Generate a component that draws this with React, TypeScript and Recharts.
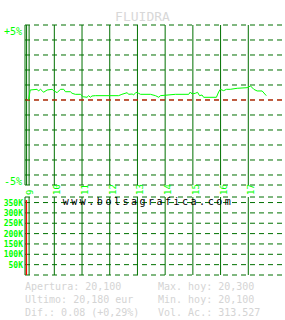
import React from "react";
import { ComposedChart, Line, Bar, XAxis, YAxis, CartesianGrid, ReferenceLine } from "recharts";

const hourTicks = [9, 10, 11, 12, 13, 14, 15, 16, 17];
const pctTicks = [-5, -4, -3, -2, -1, 0, 1, 2, 3, 4, 5];
const volTicks = [50000, 100000, 150000, 200000, 250000, 300000, 350000];

const priceTimes = [
  9.07, 9.13, 9.38, 9.43, 9.5, 9.56, 9.61, 9.74, 9.92, 9.98, 10.1, 10.22, 10.34, 10.4, 10.58,
  10.64, 10.76, 10.94, 11.04, 11.18, 11.24, 11.3, 11.36, 11.48, 12.32, 12.44, 12.63, 12.68, 12.81,
  12.86, 12.95, 13.04, 13.11, 13.47, 13.65, 13.77, 13.83, 14.37, 14.85, 14.91, 14.97, 15.09, 15.17,
  15.24, 15.33, 15.39, 15.85, 15.93, 15.99, 16.11, 16.21, 16.35, 16.6, 16.96, 17.08, 17.2, 17.32,
  17.5, 17.65,
];
const prices = [
  20.1, 20.234, 20.243, 20.221, 20.243, 20.225, 20.203, 20.234, 20.243, 20.225, 20.198, 20.243,
  20.243, 20.211, 20.211, 20.19, 20.176, 20.176, 20.144, 20.136, 20.158, 20.136, 20.154, 20.158,
  20.158, 20.176, 20.198, 20.176, 20.18, 20.167, 20.203, 20.19, 20.176, 20.176, 20.158, 20.136,
  20.158, 20.176, 20.176, 20.207, 20.18, 20.19, 20.203, 20.158, 20.167, 20.136, 20.136, 20.207,
  20.243, 20.225, 20.243, 20.243, 20.257, 20.265, 20.288, 20.243, 20.221, 20.221, 20.158,
];
const refPrice = 20.1;

const volTimes = [9];
const volumes = [362000];

const infoLeft = ["Apertura: 20,100", "Ultimo: 20,180 eur", "Dif.: 0.08 (+0,29%)"];
const infoRight = ["Max. hoy: 20,300", "Min. hoy: 20,100", "Vol. Ac.: 313.527"];

const xDomain: [number, number] = [8.942, 18.325];
const openMark = 9.09;
const GRID = "#007000";
const BRIGHT = "#00ff00";
const MONO = "'DejaVu Sans Mono', monospace";

const priceData = priceTimes.map((t, i) => ({ t, pct: (prices[i] / refPrice - 1) * 100 }));
const volData = volTimes.map((t, i) => ({ t, vol: volumes[i] }));

const HourTick = (props: any) => {
  const { x, y, payload } = props;
  return (
    <text
      transform={`translate(${x + 6},${y + 2}) rotate(-90)`}
      fill={BRIGHT}
      fontSize={9}
      fontFamily={MONO}
      textAnchor="start"
    >
      {payload.value}
    </text>
  );
};

const PctTick = (props: any) => {
  const { x, y, payload } = props;
  if (payload.value !== 5 && payload.value !== -5) return <g />;
  return (
    <text x={x + 5} y={y + 10} fill={BRIGHT} fontSize={10} fontFamily={MONO} textAnchor="end">
      {payload.value > 0 ? "+5%" : "-5%"}
    </text>
  );
};

const VolTick = (props: any) => {
  const { x, y, payload } = props;
  return (
    <text
      x={x + 6}
      y={y + 3}
      fill={BRIGHT}
      fontSize={8}
      fontWeight="bold"
      fontFamily={MONO}
      textAnchor="end"
    >
      {payload.value / 1000}K
    </text>
  );
};

export default function App() {
  return (
    <div style={{ position: "absolute", left: 0, top: 0, width: 285, height: 320, background: "#fff" }}>
      <div style={{ position: "absolute", left: 0, top: 0 }}>
        <ComposedChart width={285} height={200} data={priceData} margin={{ top: 25, right: 0, bottom: 0, left: 0 }}>
          <CartesianGrid vertical={false} stroke={GRID} strokeDasharray="5 4" />
          <XAxis
            type="number"
            dataKey="t"
            domain={xDomain}
            ticks={hourTicks}
            interval={0}
            allowDataOverflow
            height={15}
            axisLine={false}
            tickLine={false}
            tick={<HourTick />}
          />
          <YAxis
            type="number"
            domain={[-5.667, 5]}
            ticks={pctTicks}
            interval={0}
            allowDataOverflow
            width={25}
            axisLine={{ stroke: GRID }}
            tickLine={false}
            tick={<PctTick />}
          />
          {hourTicks.map((h) => (
            <ReferenceLine key={h} x={h} stroke={GRID} />
          ))}
          <ReferenceLine x={openMark} stroke={GRID} />
          <ReferenceLine y={0} stroke="#ff0000" strokeDasharray="5 4" />
          <Line
            type="linear"
            dataKey="pct"
            stroke={BRIGHT}
            strokeWidth={1}
            dot={false}
            isAnimationActive={false}
          />
        </ComposedChart>
      </div>
      <div style={{ position: "absolute", left: 0, top: 185 }}>
        <ComposedChart width={285} height={135} data={volData} margin={{ top: 12, right: 0, bottom: 45, left: 0 }}>
          <CartesianGrid vertical={false} stroke={GRID} strokeDasharray="5 4" />
          <XAxis
            type="number"
            dataKey="t"
            domain={xDomain}
            ticks={hourTicks}
            allowDataOverflow
            height={0}
            axisLine={{ stroke: GRID, strokeWidth: 2 }}
            tickLine={false}
            tick={false}
          />
          <YAxis
            type="number"
            domain={[0, 376800]}
            ticks={volTicks}
            interval={0}
            allowDataOverflow
            width={25}
            axisLine={{ stroke: GRID }}
            tickLine={false}
            tick={<VolTick />}
          />
          {hourTicks
            .filter((h) => h > 9)
            .map((h) => (
              <ReferenceLine key={h} x={h} stroke={GRID} />
            ))}
          <ReferenceLine x={openMark} stroke={GRID} />
          <Bar dataKey="vol" fill="#ff0000" barSize={1.5} isAnimationActive={false} />
        </ComposedChart>
      </div>
      <svg
        width={285}
        height={320}
        style={{ position: "absolute", left: 0, top: 0, pointerEvents: "none" }}
        fontFamily={MONO}
      >
        <text x={142.5} y={21} fontSize={13} fill="#d8d8d8" textAnchor="middle">
          FLUIDRA
        </text>
        <text x={148} y={205} fontSize={10} fill="#000" textAnchor="middle" letterSpacing={2.5}>
          www.bolsagrafica.com
        </text>
        {infoLeft.map((s, i) => (
          <text key={s} x={25} y={290 + i * 13} fontSize={10} fill="#d4d4d4">
            {s}
          </text>
        ))}
        {infoRight.map((s, i) => (
          <text key={s} x={158} y={290 + i * 13} fontSize={10} fill="#d4d4d4">
            {s}
          </text>
        ))}
      </svg>
    </div>
  );
}
